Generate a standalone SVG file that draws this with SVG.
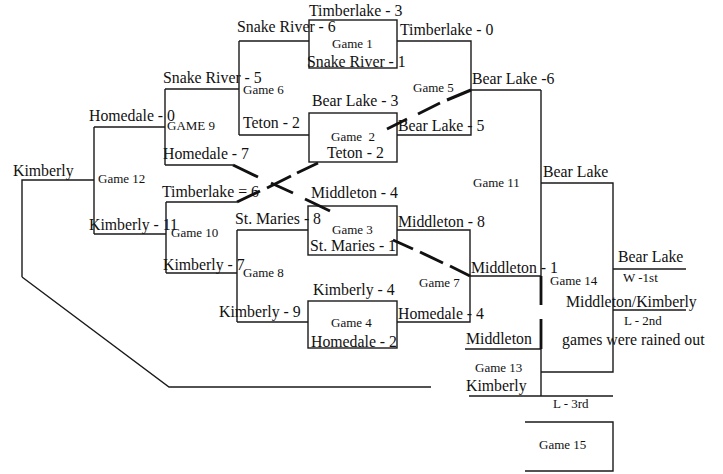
<svg xmlns="http://www.w3.org/2000/svg" width="723" height="474" viewBox="0 0 723 474">
<style>
.ln{fill:none;stroke:#1a1a1a;stroke-width:1.4}
.bx{fill:#fff;stroke:#1a1a1a;stroke-width:1.4}
.dash{fill:none;stroke:#111;stroke-width:3}
.thick{fill:none;stroke:#111;stroke-width:2.8}
text{font-family:"Liberation Serif","Times New Roman",serif;fill:#111}
.t{font-size:15.8px}
.s{font-size:13px}
</style>
<rect width="723" height="474" fill="#fff"/>
<g id="game1">
<rect class="bx" x="309" y="20" width="88" height="48"/>
<text class="t" x="309" y="16">Timberlake - 3</text>
<text class="s" x="332" y="48">Game 1</text>
<text class="t" x="307" y="67">Snake River - 1</text>
</g>
<g id="game2">
<rect class="bx" x="309" y="113" width="88" height="49"/>
<text class="t" x="312" y="106">Bear Lake - 3</text>
<text class="s" x="331" y="141" xml:space="preserve">Game  2</text>
<text class="t" x="327" y="158">Teton - 2</text>
</g>
<g id="game3">
<rect class="bx" x="308" y="206" width="89" height="49"/>
<text class="t" x="311" y="198">Middleton - 4</text>
<text class="s" x="332" y="234">Game 3</text>
<text class="t" x="310" y="251">St. Maries - 1</text>
</g>
<g id="game4">
<rect class="bx" x="308" y="301" width="89" height="47"/>
<text class="t" x="313" y="295">Kimberly - 4</text>
<text class="s" x="331" y="327">Game 4</text>
<text class="t" x="311" y="347">Homedale - 2</text>
</g>
<g id="game5">
<text class="t" x="400" y="35">Timberlake - 0</text>
<text class="s" x="413" y="92">Game 5</text>
<text class="t" x="398" y="131">Bear Lake - 5</text>
<text class="t" x="472" y="84">Bear Lake -6</text>
</g>
<g id="game6">
<text class="t" x="237" y="32">Snake River - 6</text>
<text class="s" x="243" y="94">Game 6</text>
<text class="t" x="243" y="128">Teton - 2</text>
</g>
<g id="game7">
<text class="t" x="398" y="227">Middleton - 8</text>
<text class="s" x="419" y="287">Game 7</text>
<text class="t" x="398" y="319">Homedale - 4</text>
<text class="t" x="471" y="273">Middleton - 1</text>
</g>
<g id="game8">
<text class="t" x="235" y="224">St. Maries - 8</text>
<text class="s" x="243" y="277">Game 8</text>
<text class="t" x="219" y="317">Kimberly - 9</text>
</g>
<g id="game9">
<text class="t" x="163" y="83">Snake River - 5</text>
<text class="s" x="167" y="130">GAME 9</text>
<text class="t" x="163" y="159">Homedale - 7</text>
</g>
<g id="game10">
<text class="t" x="162" y="197">Timberlake = 6</text>
<text class="s" x="171" y="237">Game 10</text>
<text class="t" x="163" y="270">Kimberly - 7</text>
</g>
<g id="game11">
<text class="s" x="473" y="187">Game 11</text>
<text class="t" x="543" y="177">Bear Lake</text>
</g>
<g id="game12">
<text class="t" x="89" y="121">Homedale - 0</text>
<text class="s" x="98" y="183">Game 12</text>
<text class="t" x="89" y="230">Kimberly - 11</text>
<text class="t" x="13" y="176">Kimberly</text>
</g>
<g id="game13">
<text class="t" x="466" y="344">Middleton</text>
<text class="s" x="475" y="372">Game 13</text>
<text class="t" x="466" y="391">Kimberly</text>
<text class="s" x="553" y="408">L - 3rd</text>
</g>
<g id="game14">
<text class="s" x="550" y="285">Game 14</text>
<text class="t" x="618" y="262">Bear Lake</text>
<text class="s" x="623" y="282">W -1st</text>
<text class="t" x="566" y="307">Middleton/Kimberly</text>
<text class="s" x="624" y="325">L - 2nd</text>
<text class="t" x="562" y="345">games were rained out</text>
</g>
<g id="game15">
<text class="s" x="539" y="449">Game 15</text>
</g>
<g id="connectors">
<path class="ln" d="M22,277 V180 H94 M94,127 V234 M94,127 H165 M94,234 H166 M22,277 L169,387 H431"/>
<path class="ln" d="M165,89 V165 M165,89 H239 M165,165 H233"/>
<path class="ln" d="M166,202 V273 M166,202 H237 M166,273 H237"/>
<path class="ln" d="M239,41 V135 M239,41 H309 M239,135 H309"/>
<path class="ln" d="M237,230 V322 M237,230 H308 M237,322 H308"/>
<path class="ln" d="M397,41 H471 V135 H397 M471,90 H541"/>
<path class="ln" d="M397,230 H470 V322 H397 M470,276 H541"/>
<path class="ln" d="M541,90 V305 M541,319 V396 M541,183 H613 V372 H541 M613,269 H686 M613,310 H686"/>
<path class="ln" d="M465,349 H541 M469,396 H613"/>
<path class="ln" d="M525,422 H613 V471 H525"/>
<path class="thick" d="M541,276 V305 M541,319 V349"/>
<path class="dash" d="M233,165 L258,177 M271,183 L293,193 M305,199 L330,211 M393,240 L413,249 M420,252 L443,263 M450,266 L470,276"/>
<path class="dash" d="M237,202 L260,191 M267,188 L291,176 M297,173 L318,163 M387,129 L407,119 M418,114 L440,103 M447,100 L471,90"/>
</g>
</svg>
